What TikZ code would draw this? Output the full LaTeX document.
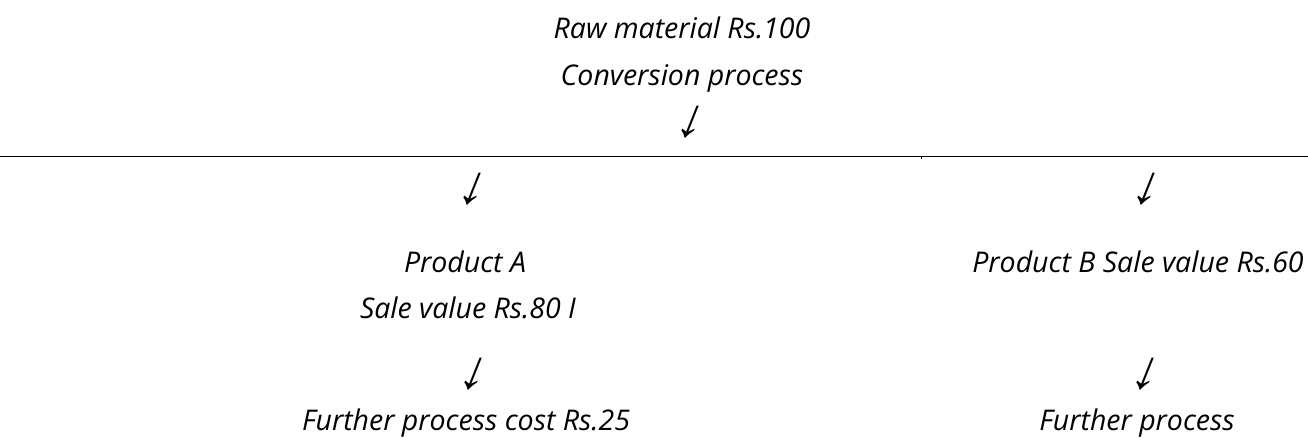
\documentclass[tikz,border=0pt]{standalone}
\usepackage{fontspec}
\setmainfont{Open Sans}
\newfontfamily\arrowfont[FakeSlant=0.4]{Liberation Sans}
\begin{document}
\begin{tikzpicture}[x=1pt,y=-1pt,
  lbl/.style={inner sep=0pt,anchor=base,font=\fontsize{28.5}{34}\selectfont\itshape},
  arr/.style={inner sep=0pt,anchor=center,font=\fontsize{54}{60}\selectfont\arrowfont}]
\useasboundingbox (0,0) rectangle (1308,437);
\node[lbl] (raw) at (682,38) {Raw material Rs.100};
\node[lbl] (conv) at (682,85) {Conversion process};
\node[arr] (a0) at (686,122) {↓};
\coordinate (l1) at (0,156);
\coordinate (l2) at (1308,156);
\draw[line width=1pt] (l1) -- (l2);
\coordinate (t1) at (921,156);
\coordinate (t2) at (921,158.5);
\draw[line width=0.8pt] (t1) -- (t2);
\node[arr] (a1) at (468,189) {↓};
\node[arr] (a2) at (1142,189) {↓};
\node[lbl] (pa) at (465,272) {Product A};
\node[lbl] (sa) at (468,318) {Sale value Rs.80 I};
\node[lbl] (pb) at (1138,272) {Product B Sale value Rs.60};
\node[arr] (a3) at (469,374) {↓};
\node[arr] (a4) at (1141,374) {↓};
\node[lbl] (fa) at (466,430) {Further process cost Rs.25};
\node[lbl] (fb) at (1137,430) {Further process};
\end{tikzpicture}
\end{document}
